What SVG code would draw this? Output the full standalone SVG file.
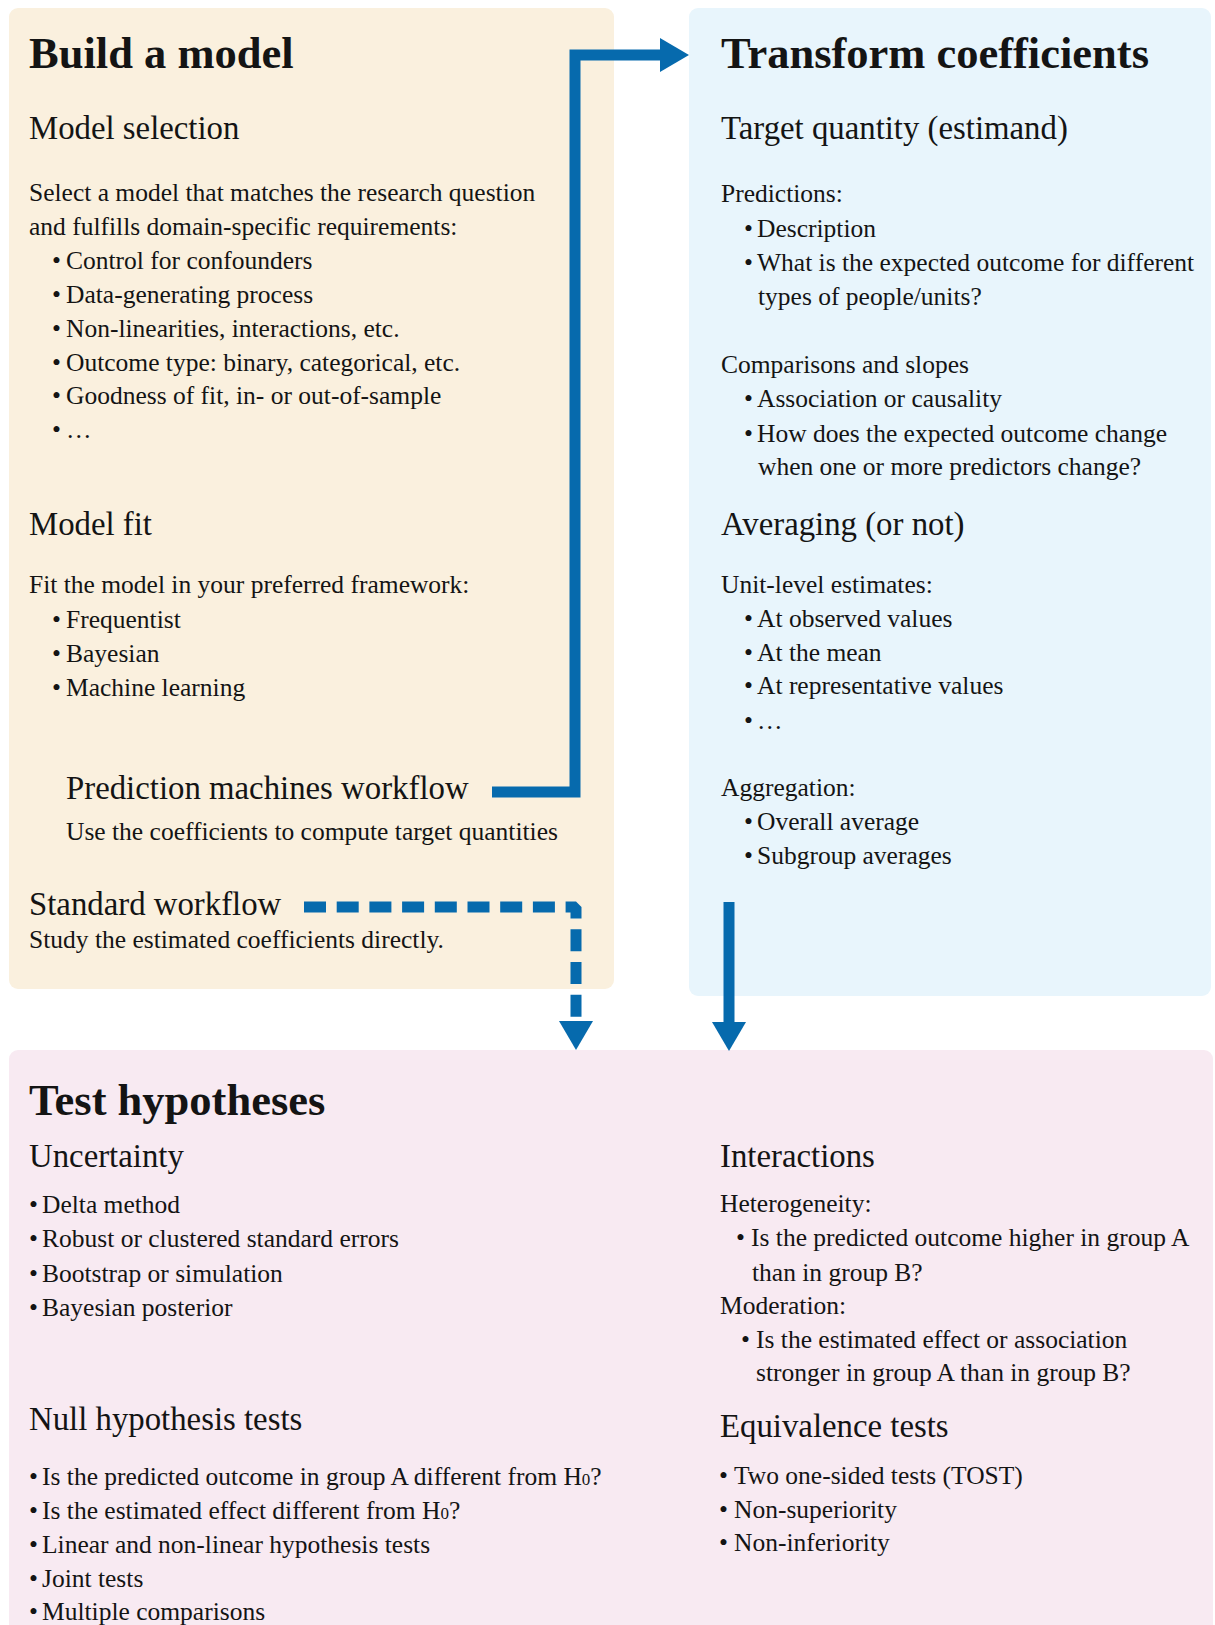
<svg xmlns="http://www.w3.org/2000/svg" width="1215" height="1625" viewBox="0 0 1215 1625">
<defs>
<style>
.t{font-family:"Liberation Serif","Times New Roman",serif;fill:#141414}
.h1{font-size:44.5px;font-weight:bold}
.h2{font-size:32.8px}
.b{font-size:25.5px}
.sub{font-size:17px}
.conn{fill:none;stroke:#066aad;stroke-width:11}
</style>
<marker id="ah" markerUnits="userSpaceOnUse" markerWidth="29" markerHeight="34" viewBox="0 0 29 34" refX="0" refY="17" orient="auto">
<path d="M0,0 L29,17 L0,34 z" fill="#066aad"/>
</marker>
</defs>
<rect width="1215" height="1625" fill="#ffffff"/>

<g id="build-model">
<rect x="9" y="8" width="605" height="981" rx="9" fill="#faf0de"/>
<text class="t h1" x="29" y="68">Build a model</text>
<text class="t h2" x="29" y="139">Model selection</text>
<text class="t b" x="29" y="201">Select a model that matches the research question</text>
<text class="t b" x="29" y="235">and fulfills domain-specific requirements:</text>
<text class="t b" y="269"><tspan x="52">•</tspan><tspan x="66">Control for confounders</tspan></text>
<text class="t b" y="303"><tspan x="52">•</tspan><tspan x="66">Data-generating process</tspan></text>
<text class="t b" y="337"><tspan x="52">•</tspan><tspan x="66">Non-linearities, interactions, etc.</tspan></text>
<text class="t b" y="371"><tspan x="52">•</tspan><tspan x="66">Outcome type: binary, categorical, etc.</tspan></text>
<text class="t b" y="404"><tspan x="52">•</tspan><tspan x="66">Goodness of fit, in- or out-of-sample</tspan></text>
<text class="t b" y="438"><tspan x="52">•</tspan><tspan x="66">…</tspan></text>
<text class="t h2" x="29" y="535">Model fit</text>
<text class="t b" x="29" y="593">Fit the model in your preferred framework:</text>
<text class="t b" y="628"><tspan x="52">•</tspan><tspan x="66">Frequentist</tspan></text>
<text class="t b" y="662"><tspan x="52">•</tspan><tspan x="66">Bayesian</tspan></text>
<text class="t b" y="696"><tspan x="52">•</tspan><tspan x="66">Machine learning</tspan></text>
<text class="t h2" x="66" y="799">Prediction machines workflow</text>
<text class="t b" x="66" y="840">Use the coefficients to compute target quantities</text>
<text class="t h2" x="29" y="915">Standard workflow</text>
<text class="t b" x="29" y="948">Study the estimated coefficients directly.</text>
</g>

<g id="transform-coefficients">
<rect x="689" y="8" width="522" height="988" rx="9" fill="#e8f5fc"/>
<text class="t h1" x="721" y="68">Transform coefficients</text>
<text class="t h2" x="721" y="139">Target quantity (estimand)</text>
<text class="t b" x="721" y="202">Predictions:</text>
<text class="t b" y="237"><tspan x="744">•</tspan><tspan x="757">Description</tspan></text>
<text class="t b" y="271"><tspan x="744">•</tspan><tspan x="757">What is the expected outcome for different</tspan></text>
<text class="t b" x="758" y="305">types of people/units?</text>
<text class="t b" x="721" y="373">Comparisons and slopes</text>
<text class="t b" y="407"><tspan x="744">•</tspan><tspan x="757">Association or causality</tspan></text>
<text class="t b" y="442"><tspan x="744">•</tspan><tspan x="757">How does the expected outcome change</tspan></text>
<text class="t b" x="758" y="475">when one or more predictors change?</text>
<text class="t h2" x="721" y="535">Averaging (or not)</text>
<text class="t b" x="721" y="593">Unit-level estimates:</text>
<text class="t b" y="627"><tspan x="744">•</tspan><tspan x="757">At observed values</tspan></text>
<text class="t b" y="661"><tspan x="744">•</tspan><tspan x="757">At the mean</tspan></text>
<text class="t b" y="694"><tspan x="744">•</tspan><tspan x="757">At representative values</tspan></text>
<text class="t b" y="729"><tspan x="744">•</tspan><tspan x="757">…</tspan></text>
<text class="t b" x="721" y="796">Aggregation:</text>
<text class="t b" y="830"><tspan x="744">•</tspan><tspan x="757">Overall average</tspan></text>
<text class="t b" y="864"><tspan x="744">•</tspan><tspan x="757">Subgroup averages</tspan></text>
</g>

<g id="test-hypotheses">
<rect x="9" y="1050" width="1204" height="600" rx="9" fill="#f8eaf2"/>
<text class="t h1" x="29" y="1115">Test hypotheses</text>
<text class="t h2" x="29" y="1167">Uncertainty</text>
<text class="t b" y="1213"><tspan x="29">•</tspan><tspan x="42">Delta method</tspan></text>
<text class="t b" y="1247"><tspan x="29">•</tspan><tspan x="42">Robust or clustered standard errors</tspan></text>
<text class="t b" y="1282"><tspan x="29">•</tspan><tspan x="42">Bootstrap or simulation</tspan></text>
<text class="t b" y="1316"><tspan x="29">•</tspan><tspan x="42">Bayesian posterior</tspan></text>
<text class="t h2" x="29" y="1430">Null hypothesis tests</text>
<text class="t b" y="1485"><tspan x="29">•</tspan><tspan x="42">Is the predicted outcome in group A different from H</tspan><tspan class="sub">0</tspan><tspan>?</tspan></text>
<text class="t b" y="1519"><tspan x="29">•</tspan><tspan x="42">Is the estimated effect different from H</tspan><tspan class="sub">0</tspan><tspan>?</tspan></text>
<text class="t b" y="1553"><tspan x="29">•</tspan><tspan x="42">Linear and non-linear hypothesis tests</tspan></text>
<text class="t b" y="1587"><tspan x="29">•</tspan><tspan x="42">Joint tests</tspan></text>
<text class="t b" y="1620"><tspan x="29">•</tspan><tspan x="42">Multiple comparisons</tspan></text>
<text class="t h2" x="720" y="1167">Interactions</text>
<text class="t b" x="720" y="1212">Heterogeneity:</text>
<text class="t b" y="1246"><tspan x="736">•</tspan><tspan x="751">Is the predicted outcome higher in group A</tspan></text>
<text class="t b" x="752" y="1281">than in group B?</text>
<text class="t b" x="720" y="1314">Moderation:</text>
<text class="t b" y="1348"><tspan x="741">•</tspan><tspan x="756">Is the estimated effect or association</tspan></text>
<text class="t b" x="756" y="1381">stronger in group A than in group B?</text>
<text class="t h2" x="720" y="1437">Equivalence tests</text>
<text class="t b" y="1484"><tspan x="719">•</tspan><tspan x="734">Two one-sided tests (TOST)</tspan></text>
<text class="t b" y="1518"><tspan x="719">•</tspan><tspan x="734">Non-superiority</tspan></text>
<text class="t b" y="1551"><tspan x="719">•</tspan><tspan x="734">Non-inferiority</tspan></text>
</g>

<g id="connectors">
<path class="conn" d="M492,792 H575 V55 H660" stroke-linejoin="miter" marker-end="url(#ah)"/>
<path class="conn" d="M304,907 H576 V1021" stroke-linejoin="bevel" stroke-dasharray="22 10.7" marker-end="url(#ah)"/>
<path class="conn" d="M729,902 V1022" marker-end="url(#ah)"/>
</g>
</svg>
